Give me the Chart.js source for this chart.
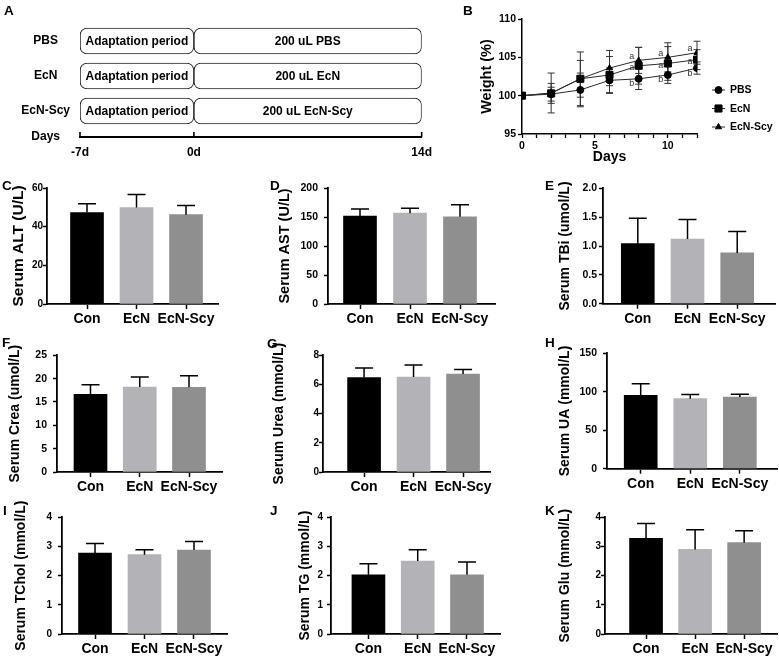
<!DOCTYPE html>
<html><head><meta charset="utf-8">
<script src="https://cdn.jsdelivr.net/npm/chart.js@4.4.0/dist/chart.umd.min.js"></script>
<style>
html,body{margin:0;padding:0;background:#fff;}
#fig{position:relative;width:779px;height:669px;overflow:hidden;background:#fff;}
canvas{position:absolute;}
.lt{position:absolute;font:bold 13.5px "Liberation Sans",Arial,sans-serif;color:#000;line-height:1;z-index:5;}
</style></head><body><div id="fig"></div>
<script>
// ---------- Panel A (schematic) ----------
const groups = ['PBS', 'EcN', 'EcN-Scy'];
const adaptRange = [-7, 0];
const treatRange = [0, 14];
const adaptLabel = 'Adaptation period';
const treatLabels = ['200 uL PBS', '200 uL EcN', '200 uL EcN-Scy'];
const dayTicks = [-7, 0, 14];
const daysAxisLabel = 'Days';

// ---------- Panel B (weight) ----------
const days = [0, 2, 4, 6, 8, 10, 12];
const pbsWeight = [100, 100.2, 100.75, 102.0, 102.2, 102.7, 103.6];
const pbsSD = [0, 0.9, 2.2, 1.6, 1.4, 1.1, 0.8];
const ecnWeight = [100, 100.3, 102.2, 102.7, 103.9, 104.2, 104.7];
const ecnSD = [0, 1.3, 3.5, 2.4, 2.4, 2.2, 1.3];
const scyWeight = [100, 100.35, 102.2, 103.6, 104.6, 105.0, 105.6];
const scySD = [0, 2.6, 2.4, 2.3, 1.7, 1.9, 1.5];
const pbsSig = ['', '', '', '', 'b', 'b', 'b'];
const ecnSig = ['', '', '', '', 'a', 'a', 'a'];
const scySig = ['', '', '', '', 'a', 'a', 'a'];
const weightTicks = [95, 100, 105, 110];

// ---------- Panels C-K (serum) ----------
const categories = ['Con', 'EcN', 'EcN-Scy'];
const altMean = [47.3, 49.9, 46.2],   altSD = [4.6, 6.8, 4.7],   altTicks = [0, 20, 40, 60];
const astMean = [151.4, 156.6, 150.3], astSD = [12.2, 8.7, 20.7], astTicks = [0, 50, 100, 150, 200];
const tbiMean = [1.04, 1.12, 0.88],  tbiSD = [0.44, 0.34, 0.37], tbiTicks = [0, 0.5, 1.0, 1.5, 2.0];
const creaMean = [16.64, 18.21, 18.14], creaSD = [2.07, 2.15, 2.5], creaTicks = [0, 5, 10, 15, 20, 25];
const ureaMean = [6.47, 6.51, 6.72], ureaSD = [0.66, 0.83, 0.30], ureaTicks = [0, 2, 4, 6, 8];
const uaMean = [95.4, 91.0, 93.2],  uaSD = [15.1, 5.3, 3.5],   uaTicks = [0, 50, 100, 150];
const tcholMean = [2.77, 2.72, 2.88], tcholSD = [0.33, 0.17, 0.29], tcholTicks = [0, 1, 2, 3, 4];
const tgMean = [2.03, 2.50, 2.03],  tgSD = [0.38, 0.39, 0.44], tgTicks = [0, 1, 2, 3, 4];
const gluMean = [3.28, 2.90, 3.13], gluSD = [0.51, 0.67, 0.41], gluTicks = [0, 1, 2, 3, 4];

const FONT = '"Liberation Sans", Arial, Helvetica, sans-serif';
Chart.defaults.font.family = FONT;
Chart.defaults.color = '#000';
Chart.defaults.animation = false;
Chart.defaults.responsive = false;
Chart.defaults.devicePixelRatio = 1;
Chart.defaults.plugins.legend.display = false;
Chart.defaults.plugins.tooltip.enabled = false;

const fig = document.getElementById('fig');
function mkCanvas(r) {
  const c = document.createElement('canvas');
  c.width = r.w; c.height = r.h;
  c.style.left = r.x + 'px'; c.style.top = r.y + 'px';
  c.style.width = r.w + 'px'; c.style.height = r.h + 'px';
  fig.appendChild(c);
  return c;
}
function letter(t, x, y) {
  const d = document.createElement('div');
  d.className = 'lt'; d.textContent = t;
  d.style.left = x + 'px'; d.style.top = y + 'px';
  fig.appendChild(d);
}

// ================= Panel A =================
(function () {
  const r = {x: 0, y: 0, w: 440, h: 170};
  const area = {left: 80, top: 23.5, right: 426, bottom: 137};
  const rowPos = [1, 2, 3, 3.743];
  const rowLabels = groups.concat([daysAxisLabel]);
  const boxStyle = {backgroundColor: '#ffffff', borderColor: '#2a2a2a', borderWidth: 1.1, borderRadius: 7,
    borderSkipped: false, barThickness: 26, grouped: false};
  const textPlugin = {
    id: 'boxText',
    afterDatasetsDraw(chart) {
      const ctx = chart.ctx;
      ctx.save();
      ctx.font = 'bold 12px ' + FONT;
      ctx.fillStyle = '#000';
      ctx.textAlign = 'center';
      ctx.textBaseline = 'middle';
      chart.data.datasets.forEach((ds, di) => {
        chart.getDatasetMeta(di).data.forEach((bar, i) => {
          ctx.fillText(ds.texts[i], (bar.x + bar.base) / 2, bar.y + 0.5);
        });
      });
      const xs = chart.scales.x, yb = chart.chartArea.bottom;
      ctx.strokeStyle = '#000'; ctx.lineWidth = 1.6;
      xs.ticks.forEach(t => {
        const px = xs.getPixelForValue(t.value);
        ctx.beginPath(); ctx.moveTo(px, yb); ctx.lineTo(px, yb - 5); ctx.stroke();
      });
      ctx.restore();
    }
  };
  new Chart(mkCanvas(r), {
    type: 'bar',
    data: {datasets: [
      Object.assign({data: groups.map((g, i) => ({y: i + 1, x: adaptRange})), texts: groups.map(() => adaptLabel)}, boxStyle),
      Object.assign({data: groups.map((g, i) => ({y: i + 1, x: treatRange})), texts: treatLabels}, boxStyle)
    ]},
    options: {
      indexAxis: 'y',
      plugins: {colors: {enabled: false}},
      layout: {padding: {left: 0, top: area.top - r.y, right: r.x + r.w - area.right, bottom: 0}},
      scales: {
        x: {type: 'linear', min: dayTicks[0], max: dayTicks[dayTicks.length - 1], offset: false,
          afterBuildTicks: s => { s.ticks = dayTicks.map(v => ({value: v})); },
          afterFit: s => { s.height = r.y + r.h - area.bottom; },
          ticks: {callback: v => v + 'd', font: {size: 12, weight: 'bold'}, padding: 8, autoSkip: false, maxRotation: 0},
          grid: {display: false, drawTicks: false},
          border: {display: true, color: '#000', width: 2}},
        y: {type: 'linear', reverse: true, min: 0.5, max: rowPos[3], offset: false,
          afterBuildTicks: s => { s.ticks = rowPos.map(v => ({value: v})); },
          afterFit: s => { s.width = area.left - r.x; },
          ticks: {callback: (v, i) => rowLabels[i], font: {size: 12, weight: 'bold'}, padding: 10, crossAlign: 'center', autoSkip: false},
          grid: {display: false, drawTicks: false},
          border: {display: false}}
      }
    },
    plugins: [textPlugin]
  });
})();

// ================= Panel B =================
(function () {
  const r = {x: 440, y: 0, w: 339, h: 175};
  const area = {left: 522, top: 19, right: 697, bottom: 134};
  const mk = (label, vals, sd, sig, style, rad, dy) => ({
    label, data: days.map((d, i) => ({x: d, y: vals[i]})), sd, sig, sigDy: dy,
    borderColor: '#2b2b2b', backgroundColor: '#000', borderWidth: 1, pointStyle: style, pointRadius: rad,
    pointBackgroundColor: '#000', pointBorderColor: '#000', pointBorderWidth: 1, tension: 0
  });
  const errPlugin = {
    id: 'wErr',
    beforeDatasetsDraw(chart) {
      const ctx = chart.ctx, ys = chart.scales.y;
      ctx.save(); ctx.strokeStyle = '#333'; ctx.lineWidth = 1;
      chart.data.datasets.forEach((ds, di) => {
        chart.getDatasetMeta(di).data.forEach((pt, i) => {
          const sd = ds.sd[i]; if (!sd) return;
          const v = ds.data[i].y;
          const t = ys.getPixelForValue(v + sd), b = ys.getPixelForValue(v - sd);
          ctx.beginPath();
          ctx.moveTo(pt.x, t); ctx.lineTo(pt.x, b);
          ctx.moveTo(pt.x - 3.5, t); ctx.lineTo(pt.x + 3.5, t);
          ctx.moveTo(pt.x - 3.5, b); ctx.lineTo(pt.x + 3.5, b);
          ctx.stroke();
        });
      });
      ctx.restore();
    },
    afterDatasetsDraw(chart) {
      const ctx = chart.ctx;
      ctx.save();
      ctx.font = '9px ' + FONT; ctx.fillStyle = '#333';
      ctx.textAlign = 'center'; ctx.textBaseline = 'middle';
      chart.data.datasets.forEach((ds, di) => {
        chart.getDatasetMeta(di).data.forEach((pt, i) => {
          if (ds.sig[i]) ctx.fillText(ds.sig[i], pt.x - 7, pt.y + ds.sigDy);
        });
      });
      ctx.font = 'bold 10.5px ' + FONT; ctx.textAlign = 'left';
      const lx = 712 - r.x, ly = 90;
      chart.data.datasets.forEach((ds, di) => {
        const y = ly + di * 18.5;
        ctx.strokeStyle = '#2b2b2b'; ctx.lineWidth = 1;
        ctx.beginPath(); ctx.moveTo(lx, y); ctx.lineTo(lx + 13, y); ctx.stroke();
        ctx.fillStyle = '#000'; ctx.strokeStyle = '#000';
        Chart.helpers.drawPoint(ctx, {pointStyle: ds.pointStyle, radius: ds.pointRadius, rotation: 0, borderWidth: 1}, lx + 6.5, y);
        ctx.fillStyle = '#000';
        ctx.fillText(ds.label, lx + 18, y + 0.5);
      });
      ctx.restore();
    }
  };
  new Chart(mkCanvas(r), {
    type: 'line',
    data: {datasets: [
      mk('PBS', pbsWeight, pbsSD, pbsSig, 'circle', 3.5, 5),
      mk('EcN', ecnWeight, ecnSD, ecnSig, 'rect', 5, 2),
      mk('EcN-Scy', scyWeight, scySD, scySig, 'triangle', 3.5, -4)
    ]},
    options: {
      plugins: {colors: {enabled: false}},
      layout: {padding: {left: 0, top: area.top - r.y, right: r.x + r.w - area.right, bottom: 0}},
      scales: {
        x: {type: 'linear', min: 0, max: 12,
          afterFit: s => { s.height = r.y + r.h - area.bottom; },
          ticks: {stepSize: 1, autoSkip: false, maxRotation: 0, callback: v => (v % 5 === 0 ? v : ''),
            font: {size: 10.5, weight: 'bold'}, padding: 1.5},
          grid: {drawOnChartArea: false, tickLength: 4, tickWidth: 1.3, tickColor: '#000'},
          border: {color: '#000', width: 1.5},
          title: {display: true, text: 'Days', font: {size: 14, weight: 'bold'}, padding: {top: 0, bottom: 9}}},
        y: {min: weightTicks[0], max: weightTicks[weightTicks.length - 1],
          afterBuildTicks: s => { s.ticks = weightTicks.map(v => ({value: v})); },
          afterFit: s => { s.width = area.left - r.x; },
          ticks: {font: {size: 10.5, weight: 'bold'}, padding: 2},
          grid: {drawOnChartArea: false, tickLength: 4, tickWidth: 1.3, tickColor: '#000'},
          border: {color: '#000', width: 1.5},
          title: {display: true, text: 'Weight (%)', font: {size: 14.5, weight: 'bold'}, padding: {top: 46.7 - 8.7, bottom: 0}}}
      }
    },
    plugins: [errPlugin]
  });
})();

// ================= Panels C-K =================
const barColors = ['#000000', '#b3b3b7', '#8f8f8f'];
const upperErrorPlugin = {
  id: 'upperError',
  afterDatasetsDraw(chart) {
    const ds = chart.data.datasets[0];
    const ys = chart.scales.y, ctx = chart.ctx;
    ctx.save(); ctx.strokeStyle = '#000'; ctx.lineWidth = 1.5;
    chart.getDatasetMeta(0).data.forEach((bar, i) => {
      const top = ys.getPixelForValue(ds.data[i].y + ds.sd[i]);
      ctx.beginPath();
      ctx.moveTo(bar.x, bar.y); ctx.lineTo(bar.x, top);
      ctx.moveTo(bar.x - 9, top); ctx.lineTo(bar.x + 9, top);
      ctx.stroke();
    });
    ctx.restore();
  }
};

function barPanel(p) {
  const r = p.rect, a = p.area, ts = p.tsize || 14;
  new Chart(mkCanvas(r), {
    type: 'bar',
    data: {datasets: [{data: p.mean.map((m, i) => ({x: i + 1, y: m})), sd: p.sd,
      backgroundColor: barColors, borderColor: barColors, borderWidth: 0, barThickness: 33}]},
    options: {
      plugins: {colors: {enabled: false}},
      layout: {padding: {left: 0, top: a.top - r.y, right: r.x + r.w - a.right, bottom: 0}},
      scales: {
        x: {type: 'linear', min: p.xr[0], max: p.xr[1], offset: false,
          afterBuildTicks: s => { s.ticks = categories.map((c, i) => ({value: i + 1})); },
          afterFit: s => { s.height = r.y + r.h - a.bottom; },
          ticks: {callback: v => categories[Math.round(v) - 1], font: {size: 14, weight: 'bold'}, padding: 1.6, autoSkip: false, maxRotation: 0},
          grid: {drawOnChartArea: false, offset: false, tickLength: 5, tickWidth: 1.5, tickColor: '#000'},
          border: {color: '#000', width: 1.8}},
        y: {min: p.ticks[0], max: p.ticks[p.ticks.length - 1],
          afterBuildTicks: s => { s.ticks = p.ticks.map(v => ({value: v})); },
          afterFit: s => { s.width = a.left - r.x; },
          ticks: {callback: v => (p.dec ? v.toFixed(p.dec) : v), font: {size: p.fs || 10, weight: 'bold'}, padding: p.pad},
          grid: {drawOnChartArea: false, tickLength: 4, tickWidth: 1.5, tickColor: '#000'},
          border: {color: '#000', width: 1.8},
          title: {display: true, text: p.title, font: {size: ts, weight: 'bold'}, padding: {top: p.tx - r.x - ts * 0.6, bottom: 0}}}
      }
    },
    plugins: [upperErrorPlugin]
  });
}

const R1 = 175, R2 = 338, R3 = 500;
barPanel({rect: {x: 0, y: R1, w: 255, h: 160}, area: {left: 47, top: 188, right: 218, bottom: 304}, xr: [0.192, 3.646],
  mean: altMean, sd: altSD, ticks: altTicks, title: 'Serum ALT (U/L)', tsize: 15.5, tx: 19, pad: 0, fs: 10});
barPanel({rect: {x: 258, y: R1, w: 260, h: 160}, area: {left: 328, top: 188, right: 495, bottom: 304}, xr: [0.36, 3.70],
  mean: astMean, sd: astSD, ticks: astTicks, title: 'Serum AST (U/L)', tsize: 14.5, tx: 285, pad: 6, fs: 10.5});
barPanel({rect: {x: 520, y: R1, w: 259, h: 160}, area: {left: 603, top: 188.3, right: 775, bottom: 303.7}, xr: [0.30, 3.76],
  mean: tbiMean, sd: tbiSD, ticks: tbiTicks, dec: 1, title: 'Serum TBi (umol/L)', tx: 565, pad: 2, fs: 10.5});
barPanel({rect: {x: 0, y: R2, w: 255, h: 160}, area: {left: 57, top: 355.3, right: 222, bottom: 472}, xr: [0.32, 3.67],
  mean: creaMean, sd: creaSD, ticks: creaTicks, title: 'Serum Crea (umol/L)', tx: 15, pad: 6, fs: 10.5});
barPanel({rect: {x: 258, y: R2, w: 260, h: 160}, area: {left: 323, top: 355.3, right: 490, bottom: 472}, xr: [0.17, 3.545],
  mean: ureaMean, sd: ureaSD, ticks: ureaTicks, title: 'Serum Urea (mmol/L)', tx: 279, pad: 0, fs: 10});
barPanel({rect: {x: 520, y: R2, w: 259, h: 160}, area: {left: 607, top: 353.3, right: 777, bottom: 468.7}, xr: [0.32, 3.75],
  mean: uaMean, sd: uaSD, ticks: uaTicks, title: 'Serum UA (mmol/L)', tx: 565, pad: 6, fs: 10.5});
barPanel({rect: {x: 0, y: R3, w: 255, h: 165}, area: {left: 62, top: 517.3, right: 227, bottom: 634}, xr: [0.333, 3.667],
  mean: tcholMean, sd: tcholSD, ticks: tcholTicks, title: 'Serum TChol (mmol/L)', tx: 20.7, pad: 6, fs: 10});
barPanel({rect: {x: 258, y: R3, w: 260, h: 165}, area: {left: 331, top: 517.3, right: 500, bottom: 634}, xr: [0.24, 3.67],
  mean: tgMean, sd: tgSD, ticks: tgTicks, title: 'Serum TG (mmol/L)', tx: 305, pad: 4, fs: 10});
barPanel({rect: {x: 520, y: R3, w: 259, h: 165}, area: {left: 605, top: 517.3, right: 777, bottom: 634}, xr: [0.163, 3.67],
  mean: gluMean, sd: gluSD, ticks: gluTicks, title: 'Serum Glu (mmol/L)', tx: 565, pad: 0, fs: 10});

letter('A', 4, 3.5); letter('B', 463, 3.5);
letter('C', 2, 178.5); letter('D', 270, 178.5); letter('E', 545, 178.5);
letter('F', 2, 335.5); letter('G', 267, 336.5); letter('H', 545, 335.5);
letter('I', 3, 503.5); letter('J', 270, 503.5); letter('K', 545, 503.5);
</script></body></html>
